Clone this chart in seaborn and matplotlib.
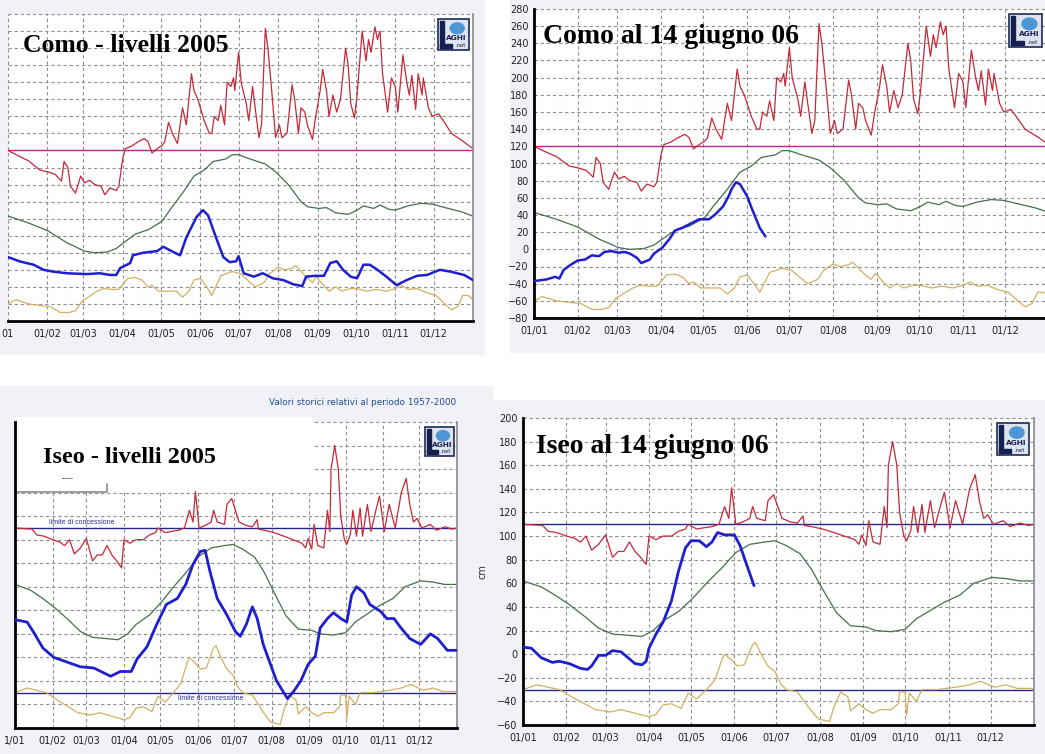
import numpy as np
import matplotlib.pyplot as plt
from matplotlib.patches import Rectangle, Ellipse
import seaborn as sns

# x axis: day of year where each month starts
month_days = [0, 31, 59, 90, 120, 151, 181, 212, 243, 273, 304, 334]
month_labels = ['01/01', '01/02', '01/03', '01/04', '01/05', '01/06',
                '01/07', '01/08', '01/09', '01/10', '01/11', '01/12']

# ---- Lago di Como, historical max / mean / min (cm) ----
como_max_day = [0, 9, 16, 25, 31, 37, 42, 44, 47, 49,
                53, 57, 60, 64, 68, 73, 76, 80, 85, 87,
                90, 92, 97, 102, 107, 110, 113, 117, 121, 123,
                126, 129, 133, 137, 140, 144, 146, 149, 151, 154,
                158, 160, 162, 165, 167, 170, 172, 175, 177, 178,
                181, 183, 187, 189, 192, 194, 197, 199, 202, 204,
                207, 210, 213, 215, 219, 223, 225, 228, 230, 233,
                235, 239, 241, 245, 247, 250, 252, 255, 258, 261,
                265, 267, 269, 272, 274, 278, 281, 283, 285, 288,
                290, 292, 294, 298, 301, 304, 306, 310, 313, 315,
                317, 320, 322, 325, 326, 330, 333, 338, 343, 348,
                356, 365]
como_max = [120, 113, 108, 97, 95, 92, 84, 107, 100, 78,
            70, 90, 82, 85, 80, 78, 68, 76, 73, 78,
            110, 122, 125, 130, 134, 130, 117, 122, 126, 130,
            153, 140, 128, 170, 150, 210, 190, 180, 170, 155,
            140, 140, 160, 155, 173, 150, 200, 195, 205, 190,
            235, 200, 175, 155, 195, 170, 135, 150, 263, 240,
            190, 135, 150, 135, 140, 197, 180, 140, 170, 165,
            150, 133, 155, 190, 215, 190, 160, 185, 165, 180,
            240, 220, 175, 158, 185, 260, 225, 250, 235, 265,
            250, 260, 210, 165, 205, 195, 165, 232, 200, 185,
            208, 168, 210, 185, 205, 170, 160, 163, 152, 140,
            132, 122]

como_mean_day = [0, 16, 31, 46, 60, 68, 78, 85, 91, 100,
                 110, 121, 127, 137, 146, 154, 161, 171, 176, 181,
                 188, 196, 202, 210, 220, 230, 235, 244, 250, 257,
                 267, 274, 279, 287, 292, 299, 304, 314, 324, 333,
                 343, 356, 365]
como_mean = [43, 35, 26, 12, 2, 0, 1, 5, 12, 22,
             27, 37, 50, 70, 90, 97, 107, 110, 115, 115,
             111, 107, 104, 95, 80, 60, 54, 52, 53, 47,
             45, 50, 55, 52, 56, 51, 50, 55, 58, 57,
             53, 48, 43]

como_min_day = [0, 6, 16, 26, 33, 41, 48, 53, 58, 63,
                70, 75, 82, 87, 94, 100, 105, 110, 113, 118,
                124, 132, 137, 142, 146, 151, 156, 160, 164, 167,
                176, 183, 188, 194, 201, 205, 212, 217, 223, 226,
                230, 235, 239, 242, 247, 252, 257, 262, 269, 274,
                282, 289, 297, 304, 309, 314, 321, 329, 336, 343,
                348, 353, 357, 361, 365]
como_min = [-60, -55, -60, -62, -63, -70, -70, -68, -57, -52,
            -45, -42, -43, -43, -30, -29, -32, -40, -38, -45,
            -45, -45, -52, -45, -32, -30, -40, -50, -37, -27,
            -22, -25, -32, -40, -35, -25, -17, -20, -18, -15,
            -22, -30, -35, -28, -37, -45, -40, -45, -42, -42,
            -45, -43, -45, -42, -38, -43, -42, -47, -50, -60,
            -67, -63, -50, -50, -55]

# Como levels 2005 and 2006 (to 14 June)
como_2005_day = [0, 9, 20, 28, 35, 46, 62, 72, 80, 85,
                 88, 96, 98, 106, 117, 122, 127, 135, 140, 148,
                 153, 157, 164, 169, 174, 179, 181, 185, 193, 200,
                 208, 216, 224, 231, 234, 241, 248, 253, 258, 263,
                 269, 274, 279, 284, 290, 297, 305, 313, 321, 329,
                 339, 347, 358, 365]
como_2005 = [-5, -10, -14, -20, -22, -24, -25, -24, -26, -26,
             -18, -12, -3, 0, 2, 7, 3, -3, 18, 42,
             50, 44, 15, -5, -11, -10, -4, -24, -28, -24,
             -30, -32, -37, -39, -28, -27, -27, -12, -10, -20,
             -28, -30, -14, -14, -20, -28, -38, -32, -27, -26,
             -20, -22, -26, -32]

como_2006_day = [0, 9, 15, 18, 21, 26, 31, 36, 41, 46,
                 50, 55, 60, 64, 68, 73, 76, 82, 85, 91,
                 96, 100, 105, 111, 117, 124, 128, 134, 138, 140,
                 143, 146, 151, 155, 160, 164]
como_2006 = [-37, -35, -32, -34, -24, -18, -13, -12, -7, -8,
             -3, -2, -4, -3, -5, -10, -16, -12, -5, 2,
             12, 22, 25, 30, 35, 35, 40, 50, 62, 70,
             78, 76, 62, 45, 25, 15]

# ---- Lago d'Iseo, historical max / mean / min (cm) ----
iseo_max_day = [0, 14, 18, 24, 31, 37, 41, 45, 49, 54,
                59, 64, 68, 72, 76, 80, 84, 88, 90, 95,
                100, 106, 111, 116, 118, 124, 129, 135, 140, 144,
                147, 149, 152, 157, 162, 164, 167, 173, 175, 179,
                182, 185, 191, 196, 200, 201, 206, 214, 222, 227,
                232, 237, 240, 242, 245, 247, 250, 255, 258, 260,
                261, 264, 267, 269, 272, 274, 277, 279, 282, 285,
                287, 291, 294, 298, 301, 305, 309, 314, 319, 323,
                326, 329, 332, 336, 343, 348, 355, 361, 365]
iseo_max = [110, 109, 104, 103, 100, 98, 95, 100, 88, 93,
            101, 82, 87, 87, 95, 87, 82, 76, 100, 97,
            100, 100, 104, 106, 110, 106, 107, 108, 110, 125,
            115, 141, 110, 112, 115, 125, 115, 113, 130, 135,
            125, 115, 112, 111, 117, 109, 108, 106, 103, 101,
            99, 97, 93, 101, 92, 113, 95, 93, 125, 107,
            160, 180, 160, 120, 100, 96, 105, 125, 103, 127,
            103, 130, 107, 125, 137, 107, 130, 110, 140, 152,
            130, 115, 118, 110, 113, 108, 111, 109, 110]

iseo_mean_day = [0, 13, 23, 33, 44, 54, 64, 75, 85, 93,
                 100, 111, 121, 131, 142, 152, 162, 173, 180, 188,
                 198, 206, 214, 224, 234, 245, 252, 263, 273, 281,
                 291, 301, 312, 322, 335, 345, 355, 365]
iseo_mean = [62, 57, 50, 42, 32, 22, 17, 16, 15, 20,
             28, 36, 47, 60, 73, 86, 93, 95, 96, 92,
             85, 72, 55, 35, 24, 23, 20, 19, 21, 30,
             37, 44, 50, 60, 65, 64, 62, 62]

iseo_min_day = [0, 10, 18, 26, 36, 44, 52, 62, 70, 80,
                90, 95, 100, 106, 113, 118, 124, 131, 137, 142,
                144, 149, 153, 158, 164, 166, 170, 175, 180, 184,
                188, 196, 204, 211, 219, 222, 227, 229, 232, 234,
                240, 245, 250, 255, 263, 268, 269, 273, 274, 276,
                281, 285, 296, 309, 319, 327, 337, 345, 353, 365]
iseo_min = [-30, -26, -28, -30, -37, -42, -47, -49, -47, -50,
            -53, -51, -43, -42, -46, -33, -38, -30, -22, -5,
            0, -5, -10, -9, 8, 10, 0, -10, -15, -25,
            -30, -32, -45, -55, -57, -45, -32, -34, -36, -48,
            -42, -47, -50, -47, -47, -42, -32, -32, -52, -33,
            -40, -30, -30, -28, -26, -23, -28, -26, -29, -29]

# Iseo levels 2005 and 2006 (to 14 June)
iseo_2005_day = [0, 10, 15, 23, 32, 43, 54, 65, 73, 79,
                 87, 96, 101, 109, 117, 125, 134, 141, 147, 153,
                 157, 161, 167, 175, 182, 186, 191, 196, 200, 205,
                 211, 216, 225, 230, 236, 242, 248, 252, 258, 263,
                 269, 274, 278, 282, 288, 293, 302, 307, 313, 318,
                 326, 335, 343, 349, 357, 365]
iseo_2005 = [32, 30, 22, 8, 0, -4, -8, -9, -13, -16,
             -12, -12, -1, 9, 28, 45, 50, 62, 79, 90,
             91, 73, 50, 36, 22, 18, 28, 43, 33, 11,
             -6, -20, -35, -29, -20, -6, 1, 25, 33, 38,
             33, 30, 53, 60, 55, 45, 39, 33, 33, 26,
             16, 11, 20, 16, 6, 6]

iseo_2006_day = [0, 6, 13, 21, 26, 33, 41, 46, 49, 54,
                 59, 64, 70, 75, 80, 85, 88, 90, 95, 100,
                 106, 111, 116, 120, 126, 131, 135, 139, 144, 151,
                 155, 160, 165]
iseo_2006 = [6, 5, -3, -7, -6, -8, -12, -13, -10, -1,
             -1, 3, 2, -3, -8, -9, -6, 5, 17, 27,
             45, 70, 90, 96, 96, 91, 95, 103, 101, 101,
             92, 75, 58]

como_limit = 120
iseo_limits = [110, -30]

titles = ['Como - livelli 2005', 'Como al 14 giugno 06',
          'Iseo - livelli 2005', 'Iseo al 14 giugno 06']

RED, GREEN, YELLOW, BLUE = '#c62838', '#456f4c', '#d2af62', '#1f1fd0'
MAGENTA, NAVY = '#c2258f', '#25258f'

sns.set_style('white')
plt.rcParams['font.family'] = ['DejaVu Sans']

W, H = 1045, 754
fig = plt.figure(figsize=(W / 100, H / 100), dpi=100)
fig.patch.set_facecolor('white')


def fx(x):
    return x / W


def fy(y):
    return 1 - y / H


def box(x0, y0, x1, y1, **kw):
    fig.add_artist(Rectangle((fx(x0), fy(y1)), fx(x1) - fx(x0), fy(y0) - fy(y1),
                             transform=fig.transFigure, **kw))


# light screenshot backgrounds
bg = '#f1f1f8'
box(0, 0, 484, 354, color=bg, zorder=0)
box(510, 0, 1045, 352, color=bg, zorder=0)
box(0, 386, 492, 754, color=bg, zorder=0)
box(478, 400, 1045, 754, color=bg, zorder=0)


def make_panel(x0, y0, x1, y1, ylim, ylabels, left, right, first):
    ax = fig.add_axes([fx(x0), fy(y1), fx(x1) - fx(x0), fy(y0) - fy(y1)])
    ax.set_facecolor('white')
    ax.set_xlim(0, 365)
    ax.set_ylim(*ylim)
    ax.set_xticks(month_days)
    ax.set_xticklabels([first] + month_labels[1:])
    ax.set_xticks(range(0, 366, 5), minor=True)
    ax.set_yticks(range(ylim[0], ylim[1] + 1, 20))
    if not ylabels:
        ax.set_yticklabels([])
    ax.set_axisbelow(True)
    ax.grid(True, which='major', color='#8f8f8f', linestyle=(0, (3, 2.5)), linewidth=0.8)
    for gl in ax.get_xgridlines() + ax.get_ygridlines():
        gl.set_clip_on(False)
    ax.spines['top'].set_visible(False)
    ax.spines['bottom'].set_linewidth(2)
    ax.spines['bottom'].set_color('black')
    ax.spines['left'].set_visible(left)
    ax.spines['left'].set_linewidth(2)
    ax.spines['left'].set_color('black')
    ax.spines['right'].set_visible(right)
    ax.spines['right'].set_color('#8a8a8a')
    ax.spines['right'].set_linewidth(1.2)
    ax.tick_params(axis='x', which='major', length=3, width=1, pad=3,
                   labelsize=7, labelcolor='#222222')
    ax.tick_params(axis='x', which='minor', length=2, width=0.8)
    ax.tick_params(axis='y', length=2 if left else 0, width=1, pad=2,
                   labelsize=7, labelcolor='#222222')
    return ax


def series(ax, d, v, color, lw, z=2):
    sns.lineplot(x=d, y=v, ax=ax, color=color, linewidth=lw, estimator=None,
                 errorbar=None, zorder=z)


def logo(x0, y0, s):
    box(x0, y0, x0 + s, y0 + s, facecolor='#dde4ee', edgecolor='#1b2a55', lw=1.2, zorder=5)
    box(x0 + 2, y0 + 2, x0 + 6, y0 + s - 2, color='#142050', zorder=6)
    box(x0 + 2, y0 + s - 6, x0 + s * 0.45, y0 + s - 2, color='#142050', zorder=6)
    fig.add_artist(Ellipse((fx(x0 + s * 0.62), fy(y0 + s * 0.3)), width=s * 0.45 / W,
                           height=s * 0.35 / H, transform=fig.transFigure,
                           color='#4b97d6', zorder=6))
    fig.text(fx(x0 + s * 0.6), fy(y0 + s * 0.62), 'AGHI', size=5.3, weight='bold',
             color='#142050', ha='center', va='center', zorder=7)
    fig.text(fx(x0 + s * 0.72), fy(y0 + s * 0.86), '.net', size=3.8,
             color='#142050', ha='center', va='center', zorder=7)


# top-left: Como 2005
ax1 = make_panel(8, 14, 473, 321, (-80, 280), False, False, True, '01')
series(ax1, como_max_day, como_max, RED, 0.9)
series(ax1, como_mean_day, como_mean, GREEN, 0.9)
series(ax1, como_min_day, como_min, YELLOW, 0.9)
series(ax1, como_2005_day, como_2005, BLUE, 1.8, 3)
ax1.axhline(como_limit, color=MAGENTA, lw=1, zorder=1.8)

# top-right: Como 2006
ax2 = make_panel(534, 9, 1049, 318, (-80, 280), True, True, False, '01/01')
series(ax2, como_max_day, como_max, RED, 0.9)
series(ax2, como_mean_day, como_mean, GREEN, 0.9)
series(ax2, como_min_day, como_min, YELLOW, 0.9)
series(ax2, como_2006_day, como_2006, BLUE, 1.8, 3)
ax2.axhline(como_limit, color=MAGENTA, lw=1, zorder=1.8)

# bottom-left: Iseo 2005
ax3 = make_panel(15, 422, 457, 728, (-60, 200), False, True, True, '1/01')
series(ax3, iseo_max_day, iseo_max, RED, 0.9)
series(ax3, iseo_mean_day, iseo_mean, GREEN, 0.9)
series(ax3, iseo_min_day, iseo_min, YELLOW, 0.9)
series(ax3, iseo_2005_day, iseo_2005, BLUE, 2.0, 3)
for lim in iseo_limits:
    ax3.axhline(lim, color=NAVY, lw=1, zorder=1.8)
ax3.add_patch(Rectangle((0, 0.775), 0.672, 0.24, transform=ax3.transAxes,
                        facecolor='white', edgecolor='none', zorder=1.5, clip_on=False))
ax3.plot([0, 0.208, 0.208], [0.771, 0.771, 0.797], transform=ax3.transAxes,
         color='#8a8a8a', lw=1.2, zorder=1.6)
ax3.text(0.12, 0.80, '----', transform=ax3.transAxes, ha='center', va='bottom',
         fontsize=6, color='#333333')
ax3.text(55, 111.5, 'limite di concessione', fontsize=5, color='#2b2b9a',
         ha='center', va='bottom', family='Liberation Sans')
ax3.text(162, -32, 'limite di concessione', fontsize=5, color='#2b2b9a',
         ha='center', va='top', family='Liberation Sans')

# bottom-right: Iseo 2006
ax4 = make_panel(523, 418, 1034, 725, (-60, 200), True, True, True, '01/01')
series(ax4, iseo_max_day, iseo_max, RED, 0.9)
series(ax4, iseo_mean_day, iseo_mean, GREEN, 0.9)
series(ax4, iseo_min_day, iseo_min, YELLOW, 0.9)
series(ax4, iseo_2006_day, iseo_2006, BLUE, 2.0, 3)
for lim in iseo_limits:
    ax4.axhline(lim, color=NAVY, lw=1, zorder=1.8)

# titles written on the charts
title_pos = [(23, 52, 18.5), (543, 43, 20), (43, 463, 17.5), (536, 453, 20)]
for t, (x, y, s) in zip(titles, title_pos):
    fig.text(fx(x), fy(y), t, family='Liberation Serif', weight='bold', size=s,
             color='black', va='baseline', ha='left', zorder=8)

fig.text(fx(456), fy(403), 'Valori storici relativi al periodo 1957-2000', size=6.4,
         color='#1f4f9a', ha='right', va='center')
fig.text(fx(483), fy(572), 'cm', size=7, color='#333333', rotation=90,
         ha='center', va='center')

for x, y, s in [(438, 19, 31), (1009, 14, 33), (425, 427, 29), (997, 423, 32)]:
    logo(x, y, s)

fig.savefig('out.png', dpi=100, facecolor=fig.get_facecolor())
